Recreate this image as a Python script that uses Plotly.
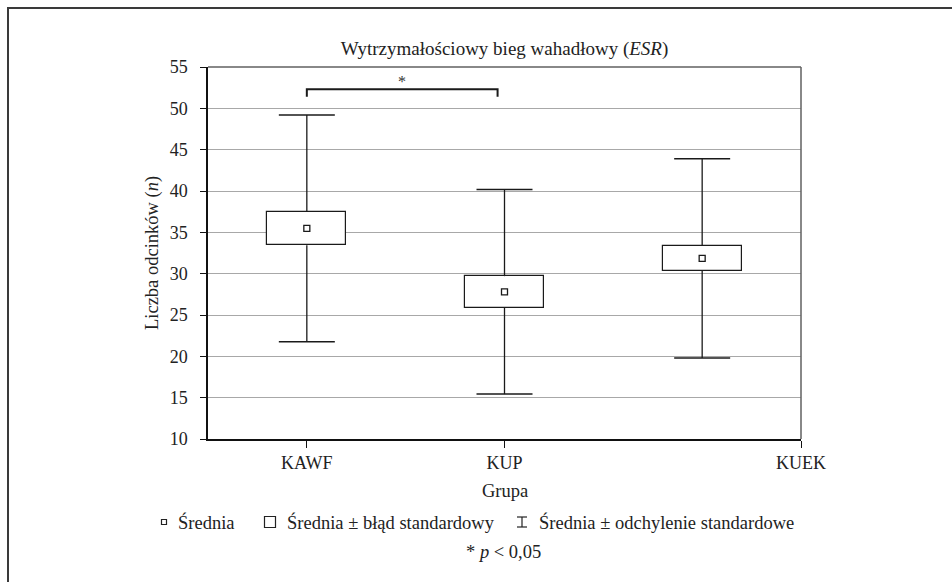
import numpy as np
import plotly.graph_objects as go

# ---- data ----
groups = ["KAWF", "KUP", "KUEK"]
mean_vals = [35.47, 27.8, 31.85]
se_vals = [2.03, 1.9, 1.52]
sd_vals = [13.72, 12.37, 12.05]
tick_labels = ["KAWF", "KUP", "KUEK"]
sig_pair = ("KAWF", "KUP")
sig_label = "*"
y_ticks = [10, 15, 20, 25, 30, 35, 40, 45, 50, 55]

FONT = "Liberation Serif"
INK = "#1a1a1a"

mean = np.array(mean_vals)
se = np.array(se_vals)
sd = np.array(sd_vals)
pos = np.arange(len(groups)) + 0.5
tick_pos = [0.5, 1.5, 3.0]

# plot area in pixels
L, R, T, B = 208, 801, 67, 439
W, H = 952, 582


def px_x(px):
    return (px - L) / (R - L)


def px_y(py):
    return (B - py) / (B - T)


fig = go.Figure()

# box: mean +- SE
fig.add_trace(go.Bar(
    x=pos, y=2 * se, base=mean - se, width=0.4,
    marker=dict(color="white", line=dict(color=INK, width=1.2)),
    showlegend=False, hoverinfo="skip",
))

# whisker stems (SD) without caps
fig.add_trace(go.Scatter(
    x=pos, y=mean + se, mode="markers", marker=dict(size=1, opacity=0),
    error_y=dict(type="data", symmetric=False, array=sd - se,
                 arrayminus=np.zeros_like(sd), color=INK,
                 thickness=1.3, width=0),
    showlegend=False, hoverinfo="skip",
))
fig.add_trace(go.Scatter(
    x=pos, y=mean - se, mode="markers", marker=dict(size=1, opacity=0),
    error_y=dict(type="data", symmetric=False, array=np.zeros_like(sd),
                 arrayminus=sd - se, color=INK,
                 thickness=1.3, width=0),
    showlegend=False, hoverinfo="skip",
))
# whisker caps
fig.add_trace(go.Scatter(
    x=np.concatenate([pos, pos]), y=np.concatenate([mean + sd, mean - sd]),
    mode="markers",
    marker=dict(symbol="line-ew", size=40, color=INK,
                line=dict(width=1.5, color=INK)),
    showlegend=False, hoverinfo="skip",
))
# mean marker
fig.add_trace(go.Scatter(
    x=pos, y=mean, mode="markers",
    marker=dict(symbol="square-open", size=6, color=INK,
                line=dict(width=1.3, color=INK)),
    showlegend=False, hoverinfo="skip",
))

# significance bracket
i1, i2 = groups.index(sig_pair[0]), groups.index(sig_pair[1])
bx1, bx2 = pos[i1], pos[i2] - 0.035
by_top, by_low = 52.3, 51.4
fig.add_trace(go.Scatter(
    x=[bx1, bx1, bx2, bx2], y=[by_low, by_top, by_top, by_low],
    mode="lines", line=dict(color=INK, width=2),
    showlegend=False, hoverinfo="skip",
))

TXT = dict(family=FONT, size=18.5, color="#222222")
ann = []
ann.append(dict(x=(bx1 + bx2) / 2, y=53.3, xref="x", yref="y", text=sig_label,
                xanchor="center", yanchor="middle", showarrow=False,
                font=dict(family=FONT, size=16, color="#333333")))
# axis titles
ann.append(dict(x=px_x(505), y=px_y(491), xref="paper", yref="paper", text="Grupa",
                xanchor="center", yanchor="middle", showarrow=False, font=TXT))
ann.append(dict(x=px_x(152), y=0.5, xref="paper", yref="paper",
                text="Liczba odcinków (<i>n</i>)", textangle=-90,
                xanchor="center", yanchor="middle", showarrow=False, font=TXT))
# legend texts
leg_y = px_y(522)
for txt, xs in [("Średnia", 176), ("Średnia ± błąd standardowy", 285),
                ("Średnia ± odchylenie standardowe", 537)]:
    ann.append(dict(x=px_x(xs), y=leg_y, xref="paper", yref="paper", text=txt,
                    xanchor="left", yanchor="middle", showarrow=False, font=TXT))
ann.append(dict(x=px_x(503), y=px_y(552), xref="paper", yref="paper",
                text="* <i>p</i> < 0,05", xanchor="center", yanchor="middle",
                showarrow=False, font=TXT))

shapes = []
# outer frame (top & left visible)
shapes.append(dict(type="line", xref="paper", yref="paper", x0=px_x(7), x1=px_x(952),
                   y0=px_y(8), y1=px_y(8), line=dict(color="#3a3a3a", width=2)))
shapes.append(dict(type="line", xref="paper", yref="paper", x0=px_x(8), x1=px_x(8),
                   y0=px_y(7), y1=px_y(582), line=dict(color="#3a3a3a", width=2)))
# plot frame top & right
shapes.append(dict(type="line", xref="paper", yref="paper", x0=0, x1=1, y0=1, y1=1,
                   line=dict(color="#606060", width=1.5)))
shapes.append(dict(type="line", xref="paper", yref="paper", x0=1, x1=1, y0=0, y1=1,
                   line=dict(color="#606060", width=1.5)))
# legend icons
shapes.append(dict(type="rect", xref="paper", yref="paper", xsizemode="pixel",
                   ysizemode="pixel", xanchor=px_x(164), yanchor=leg_y,
                   x0=-2.5, x1=2.5, y0=-2.5, y1=2.5,
                   line=dict(color="#222", width=1.2)))
shapes.append(dict(type="rect", xref="paper", yref="paper", xsizemode="pixel",
                   ysizemode="pixel", xanchor=px_x(270), yanchor=leg_y,
                   x0=-5.5, x1=5.5, y0=-5.5, y1=5.5,
                   line=dict(color="#222", width=1.2)))
for (x0, x1, y0, y1) in [(-5, 5, 5, 5), (-5, 5, -5, -5), (0, 0, -5, 5)]:
    shapes.append(dict(type="line", xref="paper", yref="paper", xsizemode="pixel",
                       ysizemode="pixel", xanchor=px_x(522), yanchor=leg_y,
                       x0=x0, x1=x1, y0=y0, y1=y1,
                       line=dict(color="#222", width=1.2)))

fig.update_layout(
    width=W, height=H,
    margin=dict(l=L, r=W - R, t=T, b=H - B, pad=0),
    paper_bgcolor="white", plot_bgcolor="white",
    font=dict(family=FONT),
    title=dict(text="Wytrzymałościowy bieg wahadłowy (<i>ESR</i>)",
               x=0.5, xref="paper", y=1 - 48 / H, yref="container",
               xanchor="center", yanchor="middle",
               font=dict(family=FONT, size=19, color="#222222")),
    xaxis=dict(range=[0, 3], tickvals=tick_pos, ticktext=tick_labels,
               showgrid=False, zeroline=False, showline=True,
               linecolor="#111", linewidth=1.5, ticks="outside", ticklen=7,
               tickcolor="#111", tickwidth=1.2,
               tickfont=dict(family=FONT, size=18, color="#222222")),
    yaxis=dict(range=[10, 55], tickvals=y_ticks, showgrid=True,
               gridcolor="#a8a8a8", gridwidth=1.2, zeroline=False,
               showline=True, linecolor="#111", linewidth=1.5,
               ticks="outside", ticklen=6, tickcolor="#111", tickwidth=1.2,
               ticklabelstandoff=9,
               tickfont=dict(family=FONT, size=18, color="#222222")),
    annotations=ann, shapes=shapes, bargap=0,
)

fig.write_html("out.html")
